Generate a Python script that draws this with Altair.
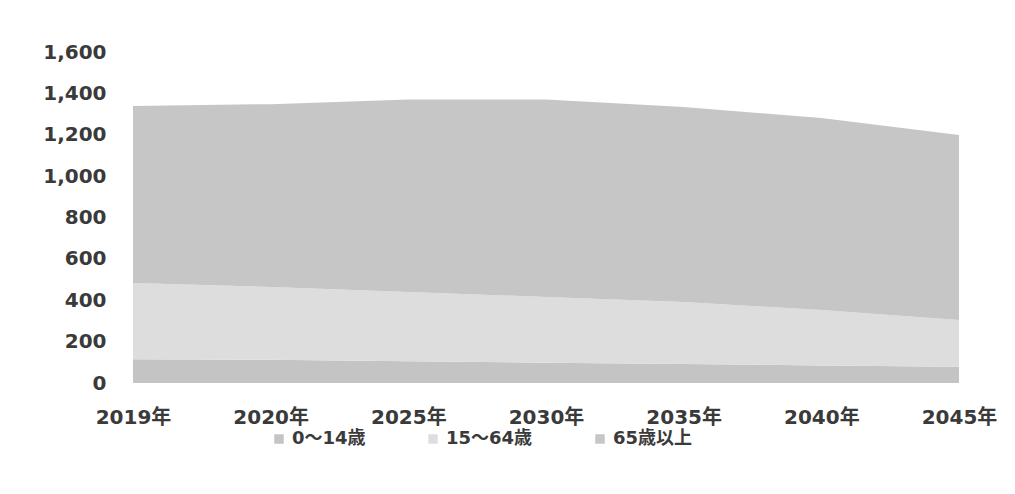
import altair as alt
import pandas as pd

years = ["2019年", "2020年", "2025年", "2030年", "2035年", "2040年", "2045年"]
groups = ["0〜14歳", "15〜64歳", "65歳以上"]
age_0_14 = [115, 112, 105, 98, 92, 85, 78]
age_15_64 = [368, 352, 335, 318, 299, 268, 226]
age_65_plus = [856, 884, 930, 954, 943, 928, 895]
y_ticks = [0, 200, 400, 600, 800, 1000, 1200, 1400, 1600]

series = [age_0_14, age_15_64, age_65_plus]
rows = []
for gi, (g, vals) in enumerate(zip(groups, series)):
    for y, v in zip(years, vals):
        rows.append({"year": y, "group": g, "value": v, "ord": gi})
df = pd.DataFrame(rows)

FONT = "DejaVu Sans, Noto Sans CJK JP, sans-serif"
colors = ["#c4c4c4", "#dddddd", "#c6c6c6"]

chart = alt.Chart(df).mark_area(opacity=1).encode(
    x=alt.X("year:N", sort=years, scale=alt.Scale(type="point", padding=0),
            axis=alt.Axis(title=None, labelAngle=0, domain=False, ticks=False,
                          labelPadding=24, labelFontSize=20, labelFontWeight="bold",
                          labelColor="#3a3a3a", labelFont=FONT)),
    y=alt.Y("value:Q", stack="zero", scale=alt.Scale(domain=[0, 1600], nice=False),
            axis=alt.Axis(title=None, values=y_ticks, format=",d", grid=False,
                          domain=False, ticks=False, labelPadding=27,
                          labelFontSize=20, labelFontWeight="bold",
                          labelColor="#3a3a3a", labelFont=FONT)),
    color=alt.Color("group:N", sort=groups,
                    scale=alt.Scale(domain=groups, range=colors),
                    legend=alt.Legend(title=None, orient="none", direction="horizontal",
                                      legendX=137, legendY=378,
                                      symbolType="square", symbolSize=90,
                                      symbolStrokeWidth=0,
                                      labelFontSize=18, labelFontWeight="bold",
                                      labelColor="#3a3a3a", labelFont=FONT,
                                      columnPadding=58, labelLimit=200)),
    order=alt.Order("ord:Q", sort="ascending"),
).properties(
    width=826, height=331,
    autosize=alt.AutoSizeParams(type="none"),
    padding={"left": 125, "top": 44, "right": 40, "bottom": 100},
).configure(background="white").configure_view(strokeWidth=0)

chart.save("out.html", embed_options={"renderer": "svg", "actions": False})
